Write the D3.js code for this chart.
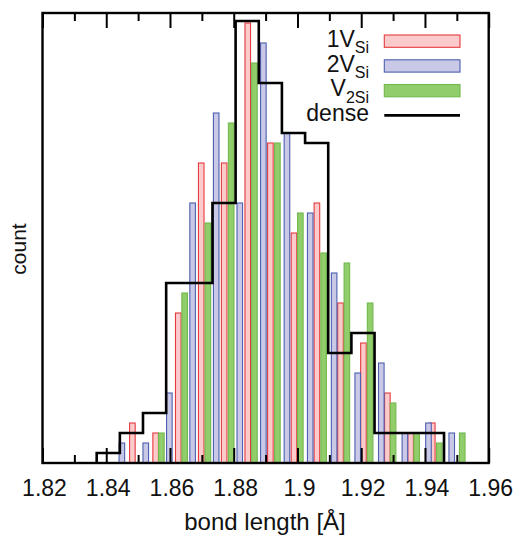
<!DOCTYPE html>
<html>
<head>
<meta charset="utf-8">
<script src="https://cdn.jsdelivr.net/npm/d3@7"></script>
<style>
  html, body { margin: 0; padding: 0; background: #fff; }
  text { font-family: "Liberation Sans", Arial, Helvetica, sans-serif; fill: #111; }
</style>
</head>
<body>
<svg id="chart" width="518" height="537"></svg>
<script>
// ---- data ----
const xTickValues = [1.82, 1.84, 1.86, 1.88, 1.90, 1.92, 1.94, 1.96];
const xTickLabels = ["1.82", "1.84", "1.86", "1.88", "1.9", "1.92", "1.94", "1.96"];
const xMinorTicks = [1.83, 1.85, 1.87, 1.89, 1.91, 1.93, 1.95];

// 1V_Si (red)
const redCenters = [1.8482, 1.8555, 1.8626, 1.8698, 1.8770, 1.8844, 1.8915, 1.8989, 1.9061, 1.9135, 1.9207, 1.9282, 1.9355, 1.9423];
const redCounts  = [4, 3, 15, 30, 30, 44, 32, 23, 26, 16, 12, 7, 3, 4];
// 2V_Si (blue)
const blueCenters = [1.8449, 1.8524, 1.8598, 1.8671, 1.8745, 1.8819, 1.8893, 1.8967, 1.9040, 1.9115, 1.9189, 1.9263, 1.9337, 1.9411, 1.9484];
const blueCounts  = [2, 2, 7, 26, 35, 26, 42, 33, 25, 19, 9, 10, 3, 4, 3];
// V_2Si (green)
const greenCenters = [1.8573, 1.8646, 1.8719, 1.8792, 1.8865, 1.8937, 1.9009, 1.9082, 1.9155, 1.9228, 1.9300, 1.9374, 1.9445, 1.9517];
const greenCounts  = [3, 17, 24, 34, 40, 32, 25, 21, 20, 16, 6, 3, 2, 3];
// dense (black step histogram): bin edges and counts
const denseEdges  = [1.8370, 1.84427, 1.85153, 1.8588, 1.86606, 1.87333, 1.88059, 1.88786, 1.89512, 1.90239, 1.90965, 1.91692, 1.92418, 1.93145, 1.93871, 1.94598];
const denseCounts = [1, 3, 5, 18, 18, 26, 44.2, 38, 33, 32, 11, 13, 3, 3, 3];

const seriesNames = ["1V", "2V", "V", "dense"];
const seriesSubs  = ["Si", "Si", "2Si", ""];

// ---- layout ----
const plot = { left: 42.5, right: 488.7, top: 13, bottom: 463 };
const barWidth = 0.00175;

const svg = d3.select("#chart");
const x = d3.scaleLinear().domain([1.82, 1.96]).range([plot.left, plot.right]);
const y = d3.scaleLinear().domain([0, 45]).range([plot.bottom, plot.top]);

const styles = [
  { fill: "#fbcaca", stroke: "#e53a3f" },
  { fill: "#c9c9e7", stroke: "#4c5fb0" },
  { fill: "#91cd6b", stroke: "#72b94c" }
];

function drawBars(centers, counts, st) {
  const data = centers.map((c, i) => ({ c, v: counts[i] }));
  svg.append("g").selectAll("rect").data(data).join("rect")
    .attr("x", d => x(d.c - barWidth / 2))
    .attr("width", d => x(d.c + barWidth / 2) - x(d.c - barWidth / 2))
    .attr("y", d => y(d.v))
    .attr("height", d => y(0) - y(d.v))
    .attr("fill", st.fill)
    .attr("stroke", st.stroke)
    .attr("stroke-width", 1.1);
}
drawBars(redCenters, redCounts, styles[0]);
drawBars(blueCenters, blueCounts, styles[1]);
drawBars(greenCenters, greenCounts, styles[2]);

// dense step line
const stepPts = [[denseEdges[0], 0]];
denseCounts.forEach((v, i) => {
  stepPts.push([denseEdges[i], v]);
  stepPts.push([denseEdges[i + 1], v]);
});
stepPts.push([denseEdges[denseEdges.length - 1], 0]);
svg.append("path")
  .attr("d", d3.line().x(d => x(d[0])).y(d => y(d[1]))(stepPts))
  .attr("fill", "none")
  .attr("stroke", "#000")
  .attr("stroke-width", 2.6)
  .attr("stroke-linejoin", "miter");

// ticks (inside, top and bottom)
const bottomAxis = d3.axisBottom(x).tickValues(xTickValues).tickSize(-15).tickFormat("");
const topAxis = d3.axisTop(x).tickValues(xTickValues).tickSize(-15).tickFormat("");
const bottomMinor = d3.axisBottom(x).tickValues(xMinorTicks).tickSize(-8).tickFormat("");
const topMinor = d3.axisTop(x).tickValues(xMinorTicks).tickSize(-8).tickFormat("");
[[bottomAxis, plot.bottom], [bottomMinor, plot.bottom], [topAxis, plot.top], [topMinor, plot.top]].forEach(([ax, ty]) => {
  const g = svg.append("g").attr("transform", `translate(0,${ty})`).call(ax);
  g.select(".domain").remove();
  g.selectAll("line").attr("stroke", "#000").attr("stroke-width", 2);
});

// tick labels
svg.append("g").selectAll("text").data(xTickValues).join("text")
  .attr("x", d => x(d) + 2)
  .attr("y", 495.5)
  .attr("text-anchor", "middle")
  .attr("font-size", 23)
  .text((d, i) => xTickLabels[i]);

// frame
svg.append("rect")
  .attr("x", plot.left).attr("y", plot.top)
  .attr("width", plot.right - plot.left).attr("height", plot.bottom - plot.top)
  .attr("fill", "none").attr("stroke", "#000").attr("stroke-width", 2.4);

// axis titles
svg.append("text")
  .attr("x", 265)
  .attr("y", 530)
  .attr("text-anchor", "middle")
  .attr("font-size", 24)
  .text("bond length [Å]");
svg.append("text")
  .attr("transform", "translate(26,249) rotate(-90)")
  .attr("text-anchor", "middle")
  .attr("font-size", 21)
  .text("count");

// legend
const legendX = 369, swX0 = 384.3, swX1 = 460;
const rowBase = [46.7, 71.5, 96.2, 121.4];
seriesNames.forEach((name, i) => {
  const t = svg.append("text")
    .attr("x", legendX)
    .attr("y", rowBase[i])
    .attr("text-anchor", "end")
    .attr("font-size", 23);
  t.append("tspan").text(name);
  if (seriesSubs[i]) {
    t.append("tspan").attr("font-size", 16).attr("dy", 6.5).text(seriesSubs[i]);
  }
  if (i < 3) {
    svg.append("rect")
      .attr("x", swX0).attr("y", rowBase[i] - 11.7)
      .attr("width", swX1 - swX0).attr("height", 12.3)
      .attr("fill", styles[i].fill).attr("stroke", styles[i].stroke).attr("stroke-width", 1.1);
  } else {
    svg.append("line")
      .attr("x1", swX0).attr("x2", swX1)
      .attr("y1", rowBase[i] - 6).attr("y2", rowBase[i] - 6)
      .attr("stroke", "#000").attr("stroke-width", 2.6);
  }
});
</script>
</body>
</html>
